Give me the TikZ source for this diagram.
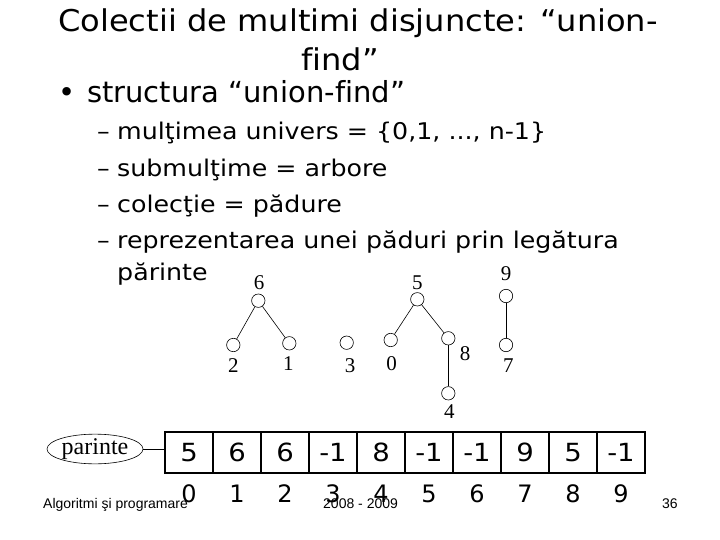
\documentclass[tikz,border=0pt]{standalone}
\usepackage{fontspec}
\usetikzlibrary{shapes.geometric}
\setmainfont[Ligatures=NoCommon]{DejaVu Sans}
\newfontfamily\titlefont[Ligatures=NoCommon,FakeStretch=1.07]{DejaVu Sans}
\newfontfamily\subfont[Ligatures=NoCommon,FakeStretch=1.1]{DejaVu Sans}
\newfontfamily\cellfont[FakeStretch=1.1]{DejaVu Sans}
\newfontfamily\tms{Liberation Serif}
\newfontfamily\ars{Liberation Sans}
\begin{document}
\begin{tikzpicture}[x=1pt,y=-1pt,
  txt/.style={inner sep=0pt,anchor=base west},
  ttl/.style={inner sep=0pt,anchor=base,font=\titlefont\fontsize{30}{30}\selectfont},
  sub/.style={inner sep=0pt,anchor=base west,font=\subfont\fontsize{23}{23}\selectfont},
  vert/.style={circle,draw,line width=0.6pt,minimum size=13.4pt,inner sep=0pt},
  vlab/.style={inner sep=0pt,font=\tms\fontsize{21}{21}\selectfont},
  cell/.style={draw,line width=1.6pt,minimum width=48pt,minimum height=41pt,inner sep=0pt,font=\cellfont\fontsize{25}{25}\selectfont},
  idx/.style={inner sep=0pt,anchor=base,font=\fontsize{24}{24}\selectfont},
  foot/.style={inner sep=0pt,anchor=base west,font=\ars\fontsize{14}{14}\selectfont},
  edge/.style={line width=0.6pt}]
\useasboundingbox (0,0) rectangle (720,540);
% title
\node[ttl] (t1) at (358,32) {Colectii de multimi disjuncte: “union-};
\node[ttl] (t2) at (340,71) {find”};
% bullet
\node[inner sep=0pt,anchor=base,font=\fontsize{29}{29}\selectfont] (b0) at (67,103) {•};
\node[txt,font=\fontsize{29}{29}\selectfont] (b1) at (87,103) {structura “union-find”};
\foreach \y/\n in {140/d1,176.5/d2,212/d3,248/d4}{
  \node[sub] (\n) at (97,\y) {–};
}
\node[sub] (s1) at (117,140) {mulţimea univers = \{0,1, ..., n-1\}};
\node[sub] (s2) at (117,176.5) {submulţime = arbore};
\node[sub] (s3) at (117,212) {colecţie = pădure};
\node[sub] (s4) at (117,248) {reprezentarea unei păduri prin legătura};
\node[sub] (s5) at (117,280) {părinte};
% forest
\node[vert] (v6) at (258.3,300.7) {};
\node[vert] (v2) at (233.3,345) {};
\node[vert] (v1) at (289.3,343.3) {};
\node[vert] (v3) at (346.7,342.7) {};
\node[vert] (v5) at (417.3,299.3) {};
\node[vert] (v0) at (390.7,340) {};
\node[vert] (v8) at (448.3,338.3) {};
\node[vert] (v4) at (448.3,393.3) {};
\node[vert] (v9) at (506,296) {};
\node[vert] (v7) at (506,345) {};
\draw[edge] (v6) -- (v2);
\draw[edge] (v6) -- (v1);
\draw[edge] (v5) -- (v0);
\draw[edge] (v5) -- (v8);
\draw[edge] (v8) -- (v4);
\draw[edge] (v9) -- (v7);
\node[vlab] (l6) at (259,282.7) {6};
\node[vlab] (l2) at (233.3,366) {2};
\node[vlab] (l1) at (288.3,363.7) {1};
\node[vlab] (l3) at (350,366) {3};
\node[vlab] (l5) at (417.3,282.7) {5};
\node[vlab] (l0) at (391.7,363.7) {0};
\node[vlab] (l8) at (465,354) {8};
\node[vlab] (l4) at (449.3,411.7) {4};
\node[vlab] (l9) at (506,273.3) {9};
\node[vlab] (l7) at (508.3,366) {7};
% array
\foreach \v [count=\i from 0] in {5,6,6,-1,8,-1,-1,9,5,-1}{
  \node[cell] (c\i) at (189+48*\i,452.5) {\v};
  \node[idx] (i\i) at (189+48*\i,502) {\i};
}
\node[ellipse,draw,line width=0.6pt,minimum width=96pt,minimum height=28pt,inner sep=0pt,font=\tms\fontsize{24}{24}\selectfont] (par) at (95,449) {parinte};
\draw[edge] (par.east) -- (c0.west |- par.east);
% footer
\node[foot] (f1) at (43,508) {Algoritmi şi programare};
\node[foot] (f2) at (323,508) {2008 - 2009};
\node[foot] (f3) at (662,508) {36};
\end{tikzpicture}
\end{document}
